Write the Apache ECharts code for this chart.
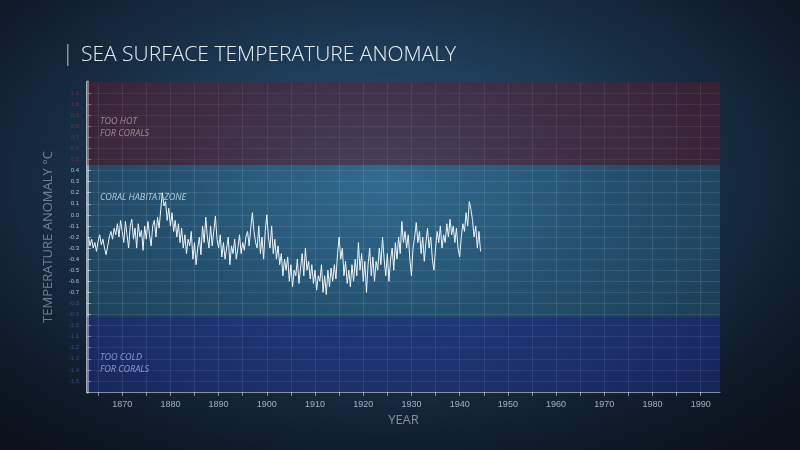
<!DOCTYPE html>
<html><head><meta charset="utf-8">
<script src="https://cdn.jsdelivr.net/npm/echarts@6/dist/echarts.min.js"></script>
<style>
html,body{margin:0;padding:0;width:800px;height:450px;overflow:hidden;
background:radial-gradient(ellipse 70% 75% at 48% 40%, #2b5a7a 0%, #1b3650 45%, #0e1a28 85%, #0a121c 100%);}
#c{width:800px;height:450px;}
</style></head><body><div id="c"></div>
<script>
const startYear = 1863;
const stepsPerYear = 3;
const anomaly = [
-0.20,-0.28,-0.22, -0.30,-0.25,-0.33, -0.24,-0.18,-0.27, -0.22,-0.30,-0.36, -0.28,-0.20,-0.15,
-0.22,-0.12,-0.18, -0.08,-0.20,-0.05, -0.15,-0.25,-0.06, -0.18,-0.30,-0.10, -0.04,-0.22,-0.12,
-0.30,-0.08,-0.20, -0.14,-0.32,-0.10, -0.22,-0.06,-0.18, -0.28,-0.10,-0.05, -0.20,-0.02,-0.12,
0.05,0.20,0.08, 0.12,-0.05,0.06, -0.10,0.02,-0.15, -0.05,-0.20,-0.08, -0.25,-0.12,-0.30,
-0.18,-0.35,-0.22, -0.28,-0.15,-0.40, -0.25,-0.45,-0.30, -0.20,-0.36,-0.10, -0.25,-0.02,-0.20,
-0.30,-0.10,-0.28, -0.15,-0.01,-0.22, -0.30,-0.18,-0.38, -0.25,-0.40,-0.30, -0.20,-0.45,-0.28,
-0.35,-0.22,-0.40, -0.30,-0.18,-0.35, -0.25,-0.32,-0.20, -0.15,-0.28,-0.12, 0.02,-0.15,-0.25,
-0.30,-0.10,-0.35, -0.20,-0.40,-0.15, 0.00,-0.20,-0.30, -0.10,-0.35,-0.22, -0.40,-0.28,-0.45,
-0.35,-0.55,-0.40, -0.50,-0.38,-0.60, -0.45,-0.65,-0.50, -0.55,-0.40,-0.62, -0.48,-0.35,-0.55,
-0.30,-0.50,-0.42, -0.58,-0.45,-0.62, -0.50,-0.68,-0.55, -0.60,-0.45,-0.70, -0.55,-0.72,-0.50,
-0.65,-0.48,-0.60, -0.45,-0.58,-0.35, -0.20,-0.40,-0.30, -0.55,-0.42,-0.62, -0.50,-0.65,-0.45,
-0.60,-0.40,-0.55, -0.25,-0.50,-0.35, -0.60,-0.42,-0.70, -0.45,-0.30,-0.55, -0.38,-0.60,-0.42,
-0.50,-0.30,-0.45, -0.20,-0.40,-0.55, -0.35,-0.60,-0.40, -0.30,-0.50,-0.25, -0.40,-0.20,-0.35,
-0.06,-0.25,-0.15, -0.30,-0.18,-0.40, -0.55,-0.30,-0.20, -0.07,-0.25,-0.15, -0.35,-0.20,-0.42,
-0.25,-0.12,-0.30, -0.20,-0.40,-0.50, -0.30,-0.15,-0.25, -0.10,-0.30,-0.18, -0.25,-0.08,-0.20,
-0.04,-0.18,-0.10, -0.25,-0.12,-0.30, -0.38,-0.20,-0.08, -0.15,0.02,-0.10, 0.12,0.05,-0.05,
-0.20,-0.10,-0.30, -0.15,-0.33
];
const xTickLabels = [1870,1880,1890,1900,1910,1920,1930,1940,1950,1960,1970,1980,1990];
const yTickLabels = [-1.5,-1.4,-1.3,-1.2,-1.1,-1.0,-0.9,-0.8,-0.7,-0.6,-0.5,-0.4,-0.3,-0.2,-0.1,0.0,0.1,0.2,0.3,0.4,0.5,0.6,0.7,0.8,0.9,1.0,1.1];
const hotZone = [0.45, 1.2];
const coldZone = [-1.6, -0.92];
const minorYears = []; for (let y=1865;y<=1990;y+=5) minorYears.push(y);

const data = anomaly.map((v,i)=>[startYear + i/stepsPerYear, v]);
const chart = echarts.init(document.getElementById('c'));
chart.setOption({
  backgroundColor:'transparent',
  animation:false,
  title:{text:'SEA SURFACE TEMPERATURE ANOMALY',left:76,top:40,
    textStyle:{color:'#e6eef5',fontSize:21,fontWeight:300,fontFamily:'Open Sans'}},
  graphic:[{type:'rect',shape:{x:67,y:44,width:1.5,height:22},style:{fill:'rgba(255,255,255,0.5)'}},
    {type:'text',left:100,top:115,style:{text:'TOO HOT\nFOR CORALS',fill:'rgba(255,255,255,0.75)',font:'italic 9px "Open Sans"',lineHeight:12}},
    {type:'text',left:100,top:193,style:{text:'CORAL HABITAT ZONE',fill:'rgba(255,255,255,0.75)',font:'italic 9px "Open Sans"'}},
    {type:'text',left:100,top:351,style:{text:'TOO COLD\nFOR CORALS',fill:'rgba(255,255,255,0.75)',font:'italic 9px "Open Sans"',lineHeight:12}}],
  grid:{left:87,right:80,top:82,bottom:58},
  xAxis:{type:'value',min:1862.7,max:1994,name:'YEAR',nameLocation:'middle',nameGap:22,
    nameTextStyle:{color:'rgba(200,215,230,0.6)',fontSize:13,fontFamily:'Open Sans'},
    axisLine:{show:true,onZero:false,lineStyle:{color:'rgba(255,255,255,0.5)'}},
    axisTick:{show:true,customValues:minorYears,length:4,lineStyle:{color:'rgba(255,255,255,0.5)'}},
    axisLabel:{customValues:xTickLabels,formatter:v=>String(Math.round(v)),color:'rgba(220,230,240,0.7)',fontSize:9,margin:8},
    splitLine:{show:true,lineStyle:{color:'rgba(255,255,255,0.12)'}}},
  yAxis:{type:'value',min:-1.6,max:1.2,name:'TEMPERATURE ANOMALY °C',nameLocation:'middle',nameGap:32,
    nameTextStyle:{color:'rgba(200,215,230,0.5)',fontSize:13,fontFamily:'Open Sans'},
    axisLine:{show:true,lineStyle:{color:'rgba(255,255,255,0.6)',width:3}},
    axisTick:{show:true,customValues:yTickLabels,inside:true,length:4,lineStyle:{color:'rgba(255,255,255,0.5)'}},
    axisLabel:{customValues:yTickLabels,fontSize:6,margin:8,
      formatter:v=>v.toFixed(1),
      color:v=>{v=+v; return v>0.45?'rgba(200,60,80,0.45)':(v<-0.75?'rgba(90,110,220,0.5)':'rgba(220,230,240,0.75)');}},
    splitLine:{show:true,lineStyle:{color:'rgba(255,255,255,0.1)'}}},
  series:[{type:'line',data:data,showSymbol:false,
    lineStyle:{color:'#eef6fb',width:1},
    markArea:{silent:true,data:[
      [{yAxis:hotZone[0],itemStyle:{color:'rgba(110,25,40,0.4)'}},{yAxis:hotZone[1]}],
      [{yAxis:coldZone[1],itemStyle:{color:'rgba(40,60,190,0.35)'}},{yAxis:coldZone[0]}],
      [{yAxis:coldZone[1],itemStyle:{color:'rgba(80,190,240,0.18)'}},{yAxis:hotZone[0]}]
    ]}}]
});
</script></body></html>
